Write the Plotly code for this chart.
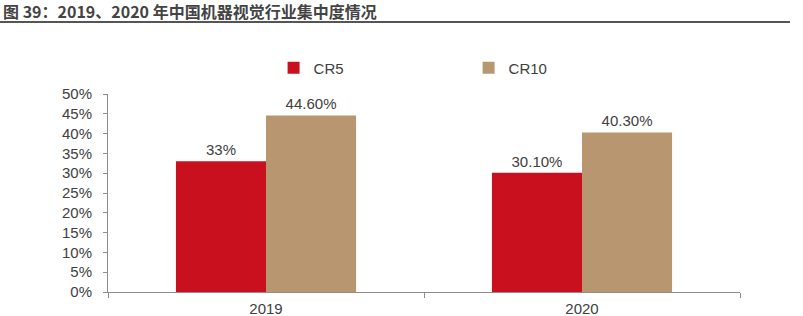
import plotly.graph_objects as go

categories = ["2019", "2020"]
cr5 = [0.33, 0.301]
cr10 = [0.446, 0.403]
cr5_labels = ["33%", "30.10%"]
cr10_labels = ["44.60%", "40.30%"]
y_ticks = [0, 0.05, 0.10, 0.15, 0.20, 0.25, 0.30, 0.35, 0.40, 0.45, 0.50]
title_text = "图 39：2019、2020 年中国机器视觉行业集中度情况"

font_family = "Liberation Sans, Arial, sans-serif"
txt_color = "#404040"

fig = go.Figure()
fig.add_trace(go.Bar(
    name="CR5", x=categories, y=cr5, text=cr5_labels,
    textposition="outside", marker=dict(color="#C8101E", line=dict(width=0)),
    textfont=dict(size=15, color=txt_color, family=font_family),
    cliponaxis=False,
))
fig.add_trace(go.Bar(
    name="CR10", x=categories, y=cr10, text=cr10_labels,
    textposition="outside", marker=dict(color="#B8966F", line=dict(width=0)),
    textfont=dict(size=15, color=txt_color, family=font_family),
    cliponaxis=False,
))

fig.update_layout(
    width=803, height=316,
    margin=dict(l=108, r=63, t=94, b=24, autoexpand=False),
    paper_bgcolor="white", plot_bgcolor="white",
    barmode="group", bargap=0.43, bargroupgap=0,
    font=dict(family=font_family, size=15, color=txt_color),
    showlegend=True,
    legend=dict(
        orientation="h", x=0.262, xanchor="left", y=1.131, yanchor="middle",
        font=dict(size=15, color=txt_color, family=font_family),
        entrywidth=150, itemwidth=30, bgcolor="rgba(0,0,0,0)",
    ),
    xaxis=dict(
        type="category", showline=True, linecolor="#8c8c8c", linewidth=1,
        ticks="outside", tickson="boundaries", ticklen=5, tickcolor="#8c8c8c",
        ticklabelstandoff=3,
        showgrid=False, tickfont=dict(size=15, color=txt_color),
        automargin=False,
    ),
    yaxis=dict(
        range=[0, 0.5], tickvals=y_ticks, tickformat=".0%",
        showline=True, linecolor="#8c8c8c", linewidth=1,
        ticks="outside", ticklen=4, tickcolor="#8c8c8c", ticklabelstandoff=8,
        showgrid=False, zeroline=False, tickfont=dict(size=15, color=txt_color),
        automargin=False,
    ),
)

fig.add_annotation(
    text="<b>" + title_text + "</b>", xref="paper", yref="paper",
    x=-106 / 632, y=(292 - 11.5) / 198, xanchor="left", yanchor="middle",
    showarrow=False, borderpad=0,
    font=dict(size=16, color="#444444", family="Noto Sans CJK SC"),
)
fig.add_shape(
    type="line", xref="paper", yref="paper",
    x0=-108 / 632, x1=(790 - 108) / 632, y0=(292 - 22) / 198, y1=(292 - 22) / 198,
    line=dict(color="#555555", width=2),
)

fig.write_html("out.html")
